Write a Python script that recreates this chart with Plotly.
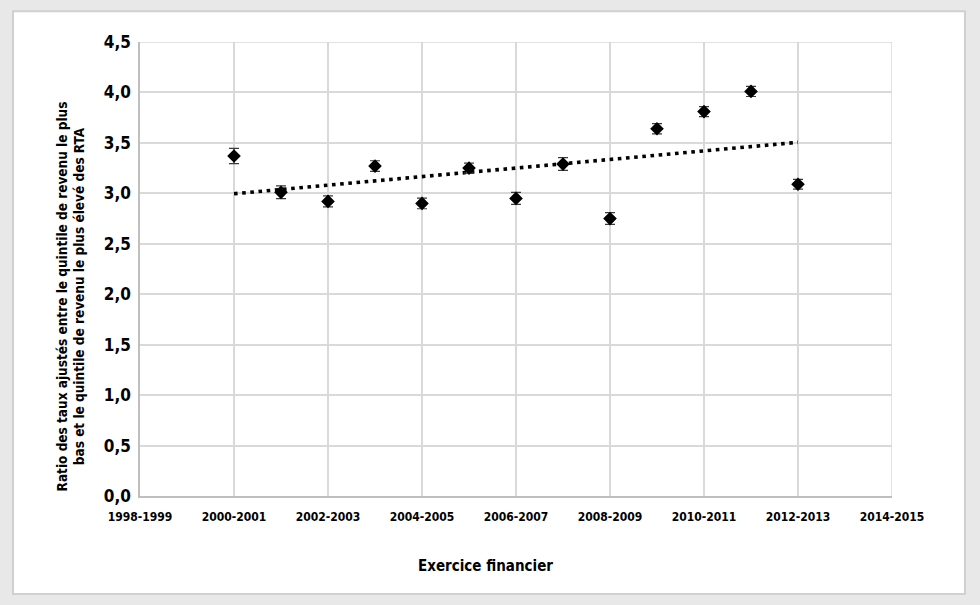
import numpy as np
import plotly.graph_objects as go

years = [2000, 2001, 2002, 2003, 2004, 2005, 2006, 2007, 2008, 2009, 2010, 2011, 2012]
ratios = [3.37, 3.01, 2.92, 3.27, 2.90, 3.25, 2.95, 3.29, 2.75, 3.64, 3.81, 4.01, 3.09]
errors = [0.076, 0.063, 0.055, 0.053, 0.053, 0.05, 0.06, 0.063, 0.058, 0.05, 0.05, 0.05, 0.048]
tick_years = [1998, 2000, 2002, 2004, 2006, 2008, 2010, 2012, 2014]
tick_labels = ["1998-1999", "2000-2001", "2002-2003", "2004-2005", "2006-2007",
               "2008-2009", "2010-2011", "2012-2013", "2014-2015"]
y_ticks = [0, 0.5, 1.0, 1.5, 2.0, 2.5, 3.0, 3.5, 4.0, 4.5]
x_title = "Exercice financier"
y_title = ("Ratio des taux ajustés entre le quintile de revenu le plus<br>"
           "bas et le quintile de revenu le plus élevé des RTA")

slope, intercept = np.polyfit(years, ratios, 1)
trend_x = [years[0], years[-1]]
trend_y = [slope * x + intercept for x in trend_x]

FONT = "DejaVu Sans Condensed, Liberation Sans Narrow, sans-serif"
BG = "#e7e8e7"
GRID = "#d9d9d9"

fig = go.Figure()
fig.add_trace(go.Scatter(
    x=trend_x, y=trend_y, mode="lines",
    line=dict(color="black", width=3.6, dash="3.6px,4.6px"),
    hoverinfo="skip", showlegend=False,
))
fig.add_trace(go.Scatter(
    x=years, y=ratios, mode="markers",
    marker=dict(symbol="diamond", size=10.5, color="black"),
    error_y=dict(type="data", array=errors, visible=True, color="#3a3a3a",
                 thickness=1.2, width=5),
    showlegend=False,
))

fig.update_layout(
    width=980, height=605,
    paper_bgcolor=BG,
    plot_bgcolor="white",
    separators=", ",
    margin=dict(l=140, r=88, t=42, b=109),
    font=dict(family=FONT, color="black"),
    shapes=[dict(type="rect", xref="paper", yref="paper",
                 x0=-0.1689, x1=1.097, y0=-0.2159, y1=1.068,
                 fillcolor="white", line=dict(color="#cfd0cf", width=2),
                 layer="below")],
    xaxis=dict(
        range=[1998, 2014], tickmode="array", tickvals=tick_years, ticktext=tick_labels,
        showgrid=True, gridcolor=GRID, gridwidth=1.5,
        showline=True, linecolor="#bfbfbf", linewidth=1.5,
        zeroline=False, ticks="outside", ticklen=9, tickcolor="rgba(0,0,0,0)",
        tickfont=dict(family=FONT, size=12, color="black", weight="bold"),
    ),
    yaxis=dict(
        range=[0, 4.5], tickmode="array", tickvals=y_ticks, tickformat=".1f",
        showgrid=True, gridcolor=GRID, gridwidth=1.5,
        showline=True, linecolor="#bfbfbf", linewidth=1.5,
        zeroline=False, ticks="outside", ticklen=4, tickcolor="rgba(0,0,0,0)",
        tickfont=dict(family=FONT, size=17, color="black", weight="bold"),
    ),
    annotations=[
        dict(text=x_title, xref="paper", yref="paper", x=0.459, y=-0.154,
             xanchor="center", yanchor="middle", showarrow=False,
             font=dict(family=FONT, size=15, color="black", weight="bold")),
        dict(text=y_title, xref="paper", yref="paper", x=-0.0915, y=0.44,
             xanchor="center", yanchor="middle", textangle=-90, showarrow=False,
             font=dict(family=FONT, size=13.5, color="black", weight="bold")),
    ],
)
fig.add_hline(y=4.5, line=dict(color=GRID, width=1.5), layer="below")
fig.add_vline(x=2014, line=dict(color=GRID, width=1.5), layer="below")

fig.write_html("out.html",
               config={"displayModeBar": False},
               post_script="document.body.style.margin='0';"
                           "document.body.style.background='%s';" % BG)
